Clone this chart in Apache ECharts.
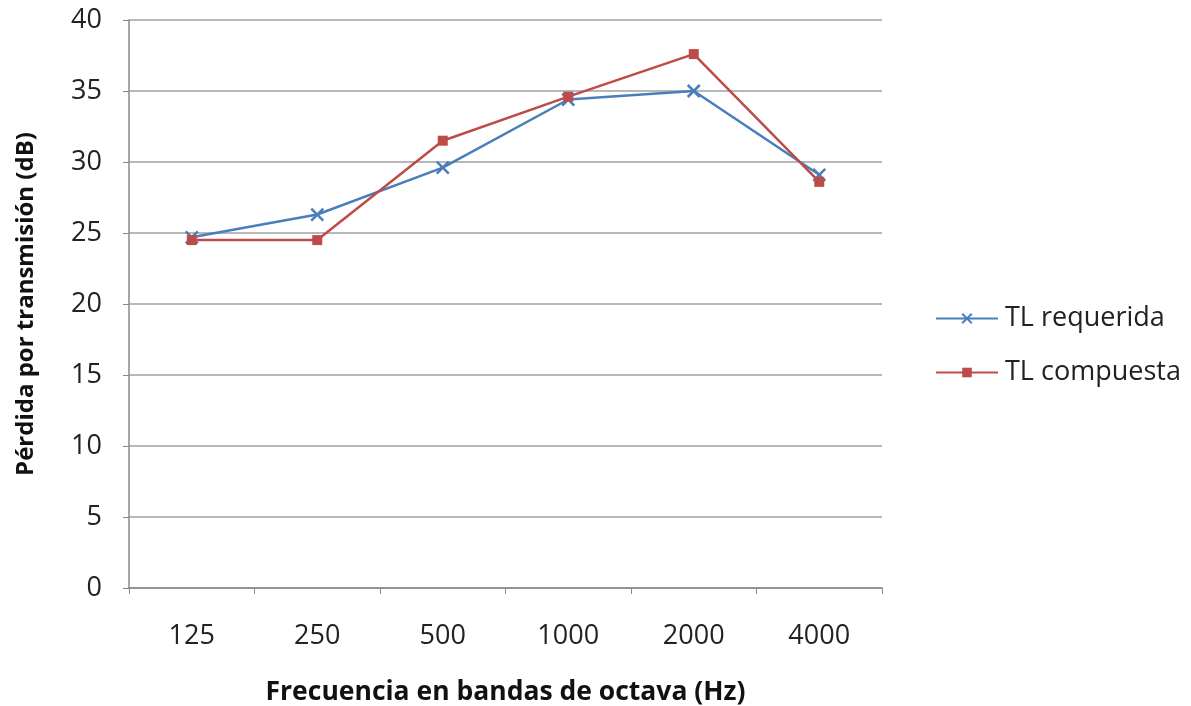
<!DOCTYPE html>
<html>
<head>
<meta charset="utf-8">
<script src="https://cdn.jsdelivr.net/npm/echarts@6/dist/echarts.min.js"></script>
<style>html,body{margin:0;padding:0;background:#fff;}#c{width:1191px;height:706px;}</style>
</head>
<body>
<div id="c"></div>
<script>
const categories = ['125', '250', '500', '1000', '2000', '4000'];
const tlRequerida = [24.7, 26.3, 29.6, 34.4, 35.0, 29.1];
const tlCompuesta = [24.5, 24.5, 31.5, 34.6, 37.6, 28.6];
const yTicks = [0, 5, 10, 15, 20, 25, 30, 35, 40];

const font = '"Open Sans", sans-serif';
const chart = echarts.init(document.getElementById('c'));
chart.setOption({
  animation: false,
  grid: {left: 129, right: 309, top: 20, bottom: 118, outerBoundsMode: 'none', containLabel: false},
  legend: {
    orient: 'vertical', left: 935, top: 305, itemGap: 27, padding: 0,
    itemWidth: 62, itemHeight: 12,
    textStyle: {fontFamily: font, fontSize: 27, color: '#222', padding: [0, 0, 0, 2]},
    data: ['TL requerida', 'TL compuesta']
  },
  xAxis: {
    type: 'category', data: categories, boundaryGap: true,
    name: 'Frecuencia en bandas de octava (Hz)', nameLocation: 'middle', nameGap: 91,
    nameTextStyle: {fontFamily: font, fontSize: 26.5, fontWeight: 'bold', color: '#111'},
    axisLine: {lineStyle: {color: '#888', width: 1.5}},
    axisTick: {show: true, length: 6, inside: false, lineStyle: {color: '#888'}},
    axisLabel: {fontFamily: font, fontSize: 27, color: '#222', margin: 35},
    splitLine: {show: false}
  },
  yAxis: {
    type: 'value', min: 0, max: 40, interval: 5,
    name: 'Pérdida por transmisión (dB)', nameLocation: 'middle', nameGap: 91, nameRotate: 90,
    nameTextStyle: {fontFamily: font, fontSize: 24, fontWeight: 'bold', color: '#111'},
    axisLine: {show: true, lineStyle: {color: '#888', width: 1.5}},
    axisTick: {show: true, length: 6, inside: false, lineStyle: {color: '#888'}},
    axisLabel: {fontFamily: font, fontSize: 27, color: '#222', margin: 27,
      formatter: v => yTicks.includes(v) ? String(v) : ''},
    splitLine: {show: true, lineStyle: {color: '#a0a0a0', width: 1.5}}
  },
  series: [
    {
      name: 'TL requerida', type: 'line', data: tlRequerida,
      symbol: 'path://M0,0 L10,10 M10,0 L0,10', symbolSize: 12,
      lineStyle: {color: '#4a7ebb', width: 2.5},
      itemStyle: {color: 'none', borderColor: '#4a7ebb', borderWidth: 2.5}
    },
    {
      name: 'TL compuesta', type: 'line', data: tlCompuesta,
      symbol: 'rect', symbolSize: 10,
      lineStyle: {color: '#be4b48', width: 2.5},
      itemStyle: {color: '#be4b48'}
    }
  ]
});
</script>
</body>
</html>
